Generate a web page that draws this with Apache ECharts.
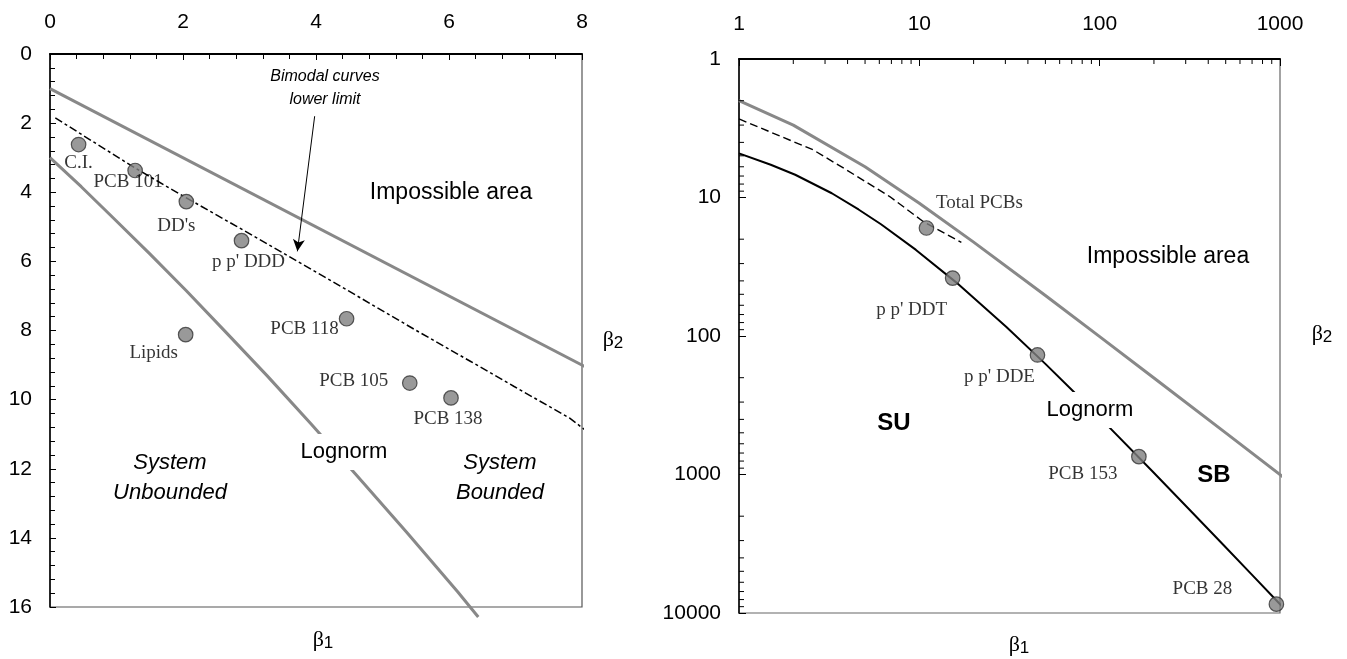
<!DOCTYPE html>
<html lang="en">
<head>
<meta charset="UTF-8">
<title>beta1 - beta2</title>
<style>html,body{margin:0;padding:0;background:#fff}</style>
</head>
<body>
<div id="demo" style="width:1347px;height:659px"></div>
<script src="https://cdn.jsdelivr.net/npm/echarts@6/dist/echarts.min.js"></script>
<script type="text/javascript">
// ---- left chart (linear scales) ----
var leftNames = ['C.I.', 'PCB 101', "DD's", "p p' DDD", 'PCB 118', 'Lipids', 'PCB 105', 'PCB 138'];
var leftB1 = [0.43, 1.28, 2.05, 2.88, 4.46, 2.04, 5.41, 6.03];
var leftB2 = [2.62, 3.37, 4.27, 5.40, 7.66, 8.12, 9.52, 9.95];
var leftUpper = [[0, 1], [8.15, 9.15]];
var leftLognorm = [[0, 3], [0.47, 3.84], [0.96, 4.76], [1.49, 5.76], [2.05, 6.85], [2.64, 8.04],
    [3.27, 9.32], [3.93, 10.71], [4.62, 12.21], [5.36, 13.83], [6.13, 15.56], [6.44, 16.29]];
var leftBimodal = [[0.08, 1.85], [1.28, 3.30], [2.04, 4.15], [2.80, 4.98], [3.41, 5.65], [4.12, 6.44],
    [5.49, 7.98], [6.32, 8.89], [6.98, 9.62], [7.81, 10.53], [8.11, 10.97]];
var arrowFrom = [3.98, 1.8];
var arrowTo = [3.72, 5.71];
var leftXTicks = [0, 2, 4, 6, 8];
var leftYTicks = [0, 2, 4, 6, 8, 10, 12, 14, 16];

// ---- right chart (log-log) ----
var rightNames = ['Total PCBs', "p p' DDT", "p p' DDE", 'PCB 153', 'PCB 28'];
var rightB1 = [10.95, 15.3, 45.2, 165, 955];
var rightB2 = [16.6, 38.2, 137, 743, 8630];
var rightUpper = [[1, 2], [2, 3], [5, 6], [10, 11], [20, 21], [50, 51], [100, 101], [200, 201], [500, 501], [1120, 1121]];
var rightLognorm = [[1, 4.8], [1.5, 5.8], [2.05, 6.85], [3.27, 9.32], [4.6, 12.2], [6.13, 15.6], [9.58, 23.9], [16, 41], [30.4, 86],
    [50, 159], [75.6, 270], [108, 429], [196, 947], [320, 1833], [486, 3231], [700, 5309], [968, 8259], [1120, 10100]];
var rightBimodal = [[1, 2.71], [2.57, 4.52], [3.94, 6.31], [6.85, 9.84], [10.5, 14.9], [17.1, 21.1]];
var rightXTicks = [1, 10, 100, 1000];
var rightYTicks = [1, 10, 100, 1000, 10000];

// label offsets (px) from each point
var leftOffsets = [[0, 18], [-7, 12], [-10, 24], [7, 21], [-42, 10], [-32, 18], [-56, -2], [-3, 21]];
var rightOffsets = [[53, -25], [-41, 32], [-38, 22], [-56, 17], [-74, -15]];

var SANS = '"Liberation Sans", Arial, sans-serif';
var SERIF = '"Liberation Serif", "Times New Roman", serif';

// minor ticks 2..9 of every decade for the log axes
function minorValues(ticks) {
    var out = [];
    for (var i = 0; i < ticks.length - 1; i++) {
        for (var m = 2; m <= 9; m++) out.push(ticks[i] * m);
    }
    return out;
}

function minorTickSeries(dir, values, idx) {
    return {
        type: 'custom', xAxisIndex: idx, yAxisIndex: idx, silent: true, z: 5,
        data: values.map(function (v) { return dir === 'x' ? [v, 1] : [1, v]; }),
        renderItem: function (params, api) {
            var p = api.coord([api.value(0), api.value(1)]);
            var shape = dir === 'x'
                ? {x1: p[0], y1: p[1], x2: p[0], y2: p[1] + 5}
                : {x1: p[0], y1: p[1], x2: p[0] + 5, y2: p[1]};
            return {type: 'line', shape: shape, style: {stroke: '#000', lineWidth: 1}};
        }
    };
}

function points(b1, b2, names, offsets, idx) {
    var data = [];
    for (var i = 0; i < b1.length; i++) {
        data.push({value: [b1[i], b2[i]], name: names[i], label: {offset: offsets[i]}});
    }
    return {
        type: 'scatter', xAxisIndex: idx, yAxisIndex: idx, z: 10, clip: false,
        symbol: 'circle', symbolSize: 14.5,
        itemStyle: {color: '#7f7f7f', borderColor: '#333', borderWidth: 1.2},
        label: {show: true, position: 'inside', formatter: '{b}', color: '#000',
            textBorderWidth: 0, fontFamily: SERIF, fontSize: 19},
        data: data
    };
}

function line(data, idx, color, width, type) {
    return {
        type: 'line', xAxisIndex: idx, yAxisIndex: idx, data: data, clip: false,
        symbol: 'none', silent: true, z: 3,
        lineStyle: {color: color, width: width, type: type || 'solid'}
    };
}

function txt(x, y, text, font, extra) {
    var style = {text: text, font: font, fill: '#000', align: 'center', verticalAlign: 'middle'};
    for (var k in extra) style[k] = extra[k];
    return {type: 'text', x: x, y: y, z: 100, style: style};
}

function beta(x, y, n) {
    return {type: 'text', x: x, y: y, z: 100, style: {
        text: '{a|β}{b|' + n + '}', align: 'center', verticalAlign: 'middle', fill: '#000',
        rich: {a: {fontFamily: SERIF, fontSize: 22}, b: {fontFamily: SANS, fontSize: 17, padding: [6, 0, 0, 0]}}
    }};
}

var axisLabel = {color: '#000', fontFamily: SANS, fontSize: 21};
var logFmt = function (v) { return String(Math.round(v)); };

var myChart = echarts.init(document.getElementById('demo'));
var option = {
    animation: false,
    backgroundColor: '#fff',
    grid: [
        {left: 50, top: 54, width: 532, height: 553, show: true, borderColor: '#555', borderWidth: 1.2},
        {left: 739, top: 59, width: 541, height: 554, show: true, borderColor: '#666', borderWidth: 1.2}
    ],
    xAxis: [
        {type: 'value', gridIndex: 0, position: 'top', min: leftXTicks[0], max: leftXTicks[leftXTicks.length - 1],
            interval: leftXTicks[1] - leftXTicks[0],
            axisLine: {onZero: false, lineStyle: {color: '#000', width: 2}},
            axisTick: {inside: true, length: 6, lineStyle: {color: '#000'}},
            minorTick: {show: true, splitNumber: 5, length: 5, lineStyle: {color: '#000'}},
            splitLine: {show: false}, axisLabel: Object.assign({margin: 21, showMinLabel: true, showMaxLabel: true}, axisLabel)},
        {type: 'log', logBase: 10, gridIndex: 1, position: 'top', min: rightXTicks[0], max: rightXTicks[rightXTicks.length - 1],
            axisLine: {onZero: false, lineStyle: {color: '#000', width: 2}},
            axisTick: {inside: true, length: 7, lineStyle: {color: '#000'}},
            splitLine: {show: false}, axisLabel: Object.assign({margin: 24, formatter: logFmt}, axisLabel)}
    ],
    yAxis: [
        {type: 'value', gridIndex: 0, inverse: true, min: leftYTicks[0], max: leftYTicks[leftYTicks.length - 1],
            interval: leftYTicks[1] - leftYTicks[0],
            axisLine: {onZero: false, lineStyle: {color: '#000', width: 1.5}},
            axisTick: {inside: true, length: 6, lineStyle: {color: '#000'}},
            minorTick: {show: true, splitNumber: 5, length: 5, lineStyle: {color: '#000'}},
            splitLine: {show: false}, axisLabel: Object.assign({margin: 18, showMinLabel: true, showMaxLabel: true}, axisLabel)},
        {type: 'log', logBase: 10, gridIndex: 1, inverse: true, min: rightYTicks[0], max: rightYTicks[rightYTicks.length - 1],
            axisLine: {onZero: false, lineStyle: {color: '#000', width: 1.5}},
            axisTick: {inside: true, length: 7, lineStyle: {color: '#000'}},
            splitLine: {show: false}, axisLabel: Object.assign({margin: 18, formatter: logFmt}, axisLabel)}
    ],
    series: [
        line(leftUpper, 0, '#888', 3),
        line(leftLognorm, 0, '#888', 3),
        {
            type: 'line', xAxisIndex: 0, yAxisIndex: 0, data: leftBimodal, clip: false, symbol: 'none', z: 3,
            lineStyle: {color: '#000', width: 1.5, type: [8, 3, 3, 3]},
            markLine: {
                silent: true, symbol: ['none', 'arrow'], symbolSize: [9, 12],
                lineStyle: {color: '#000', width: 1, type: 'solid'}, label: {show: false},
                data: [[{coord: arrowFrom}, {coord: arrowTo}]]
            }
        },
        points(leftB1, leftB2, leftNames, leftOffsets, 0),

        line(rightUpper, 1, '#888', 3),
        line(rightLognorm, 1, '#000', 2),
        line(rightBimodal, 1, '#000', 1.4, [8, 4]),
        points(rightB1, rightB2, rightNames, rightOffsets, 1),
        minorTickSeries('x', minorValues(rightXTicks), 1),
        minorTickSeries('y', minorValues(rightYTicks), 1)
    ],
    graphic: [
        txt(325, 88, 'Bimodal curves\nlower limit', 'italic 16px ' + SANS, {lineHeight: 23}),
        txt(451, 193, 'Impossible area', '23px ' + SANS),
        txt(344, 452, 'Lognorm', '22px ' + SANS, {backgroundColor: '#fff', padding: [7, 3]}),
        txt(170, 478, 'System\nUnbounded', 'italic 22px ' + SANS, {lineHeight: 30}),
        txt(500, 478, 'System\nBounded', 'italic 22px ' + SANS, {lineHeight: 30}),
        beta(613, 340, 2),
        beta(323, 640, 1),

        txt(1168, 257, 'Impossible area', '23px ' + SANS),
        txt(1090, 410, 'Lognorm', '22px ' + SANS, {backgroundColor: '#fff', padding: [7, 3]}),
        txt(894, 423, 'SU', 'bold 24px ' + SANS),
        txt(1214, 475, 'SB', 'bold 24px ' + SANS),
        beta(1322, 334, 2),
        beta(1019, 645, 1)
    ]
};
myChart.setOption(option);
</script>
</body>
</html>
